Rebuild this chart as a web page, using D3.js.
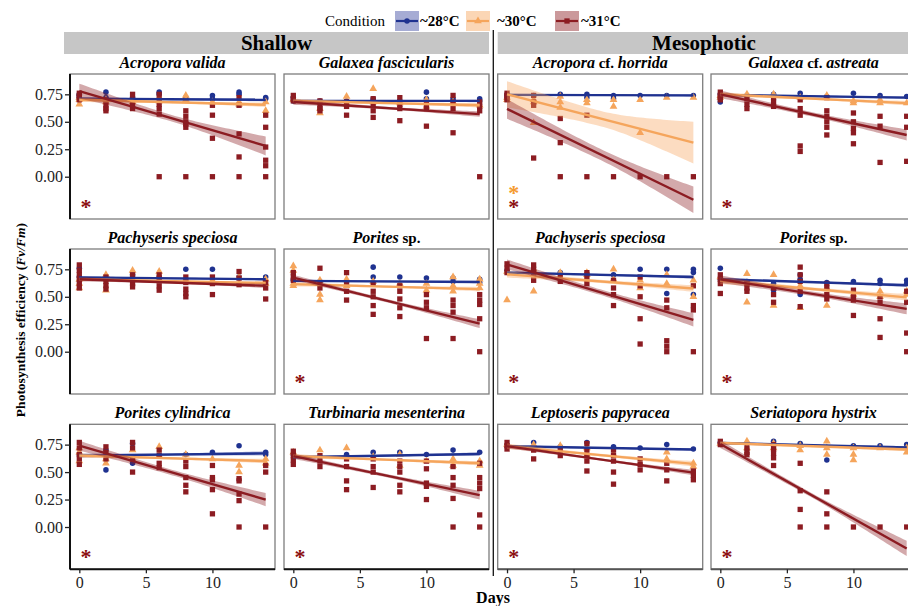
<!DOCTYPE html>
<html lang="en">
<head>
<meta charset="utf-8">
<title>Photosynthesis efficiency by condition</title>
<script src="https://d3js.org/d3.v7.min.js"></script>
<style>
  body { margin: 0; background: #fff; }
  svg text { font-family: "Liberation Serif", "Times New Roman", serif; }
</style>
</head>
<body>
<div id="main"></div>
<script>

// ---- data ----
var days = [0, 2, 4, 6, 8, 10, 12, 14];
var conditions = ["~28°C", "~30°C", "~31°C"];
var depths = ["Shallow", "Mesophotic"];
var yTicks = [0, 0.25, 0.5, 0.75];
var xTicks = [0, 5, 10];

// panel order: row by row, columns 1-2 shallow, 3-4 mesophotic
var titleParts = [
  [["Acropora valida", 1]], [["Galaxea fascicularis", 1]],
  [["Acropora", 1], [" cf. ", 0], ["horrida", 1]], [["Galaxea", 1], [" cf. ", 0], ["astreata", 1]],
  [["Pachyseris speciosa", 1]], [["Porites", 1], [" sp.", 0]],
  [["Pachyseris speciosa", 1]], [["Porites", 1], [" sp.", 0]],
  [["Porites cylindrica", 1]], [["Turbinaria mesenterina", 1]],
  [["Leptoseris papyracea", 1]], [["Seriatopora hystrix", 1]]
];

// Fv/Fm per panel, per day (replicates)
var pts28 = [
  [[0.75,0.72,0.74],[0.77,0.72],[0.72,0.70],[0.77,0.75],[0.72],[0.74,0.71],[0.77,0.75],[0.72,0.71]],
  [[0.72,0.69],[0.69],[0.69],[0.71,0.69],[0.69],[0.77,0.71],[0.71],[0.71,0.69]],
  [[0.75,0.73],[0.74],[0.75],[0.75,0.72],[0.74,0.71],[0.74],[0.74],[0.74]],
  [[0.68,0.75],[0.74],[0.75],[0.76],[0.73],[0.76],[0.74],[0.73]],
  [[0.76,0.68],[0.68],[0.70],[0.68],[0.75],[0.75],[0.68],[0.68]],
  [[0.65],[0.64],[0.64],[0.77,0.68],[0.68],[0.67],[0.67,0.64],[0.66,0.63]],
  [[0.74],[0.72],[0.72],[0.71],[0.70],[0.75],[0.75,0.53],[0.75,0.72,0.52]],
  [[0.76,0.66],[0.64],[0.62,0.56],[0.70,0.66,0.52],[0.63],[0.64],[0.65,0.62],[0.65,0.62]],
  [[0.66],[0.70,0.52],[0.76,0.58],[0.65],[0.66],[0.68],[0.74],[0.68,0.66]],
  [[0.66],[0.64],[0.66],[0.68],[0.68],[0.66],[0.70],[0.68]],
  [[0.74],[0.77],[0.73],[0.77],[0.73],[0.72],[0.75],[0.71]],
  [[0.77],[0.76],[0.78],[0.76],[0.61],[0.74],[0.74],[0.75]]
];
var pts30 = [
  [[0.66,0.72,0.70],[0.70,0.68],[0.68],[0.72,0.69],[0.74,0.70],[0.68],[0.66,0.68],[0.60,0.68]],
  [[0.70],[0.58,0.62],[0.73,0.66],[0.80,0.68],[0.67],[0.70,0.64],[0.68],[0.65]],
  [[0.72,0.70],[0.70,0.68,0.49],[0.73,0.68,0.63],[0.70,0.67],[0.70,0.64],[0.40,0.70],[0.72],[0.72]],
  [[0.72,0.74],[0.75],[0.75],[0.72],[0.74],[0.69,0.67],[0.67,0.70],[0.67]],
  [[0.58,0.62,0.66],[0.70,0.56],[0.74,0.66],[0.73,0.66],[0.66],[0.65],[0.68,0.62],[0.62,0.66]],
  [[0.78,0.74,0.62,0.60],[0.65,0.52,0.47],[0.66,0.60],[0.64],[0.62],[0.62,0.56],[0.68,0.60,0.55],[0.66,0.62,0.58]],
  [[0.73,0.47],[0.75,0.55],[0.72],[0.72,0.70],[0.75,0.66],[0.65,0.58],[0.70,0.62],[0.65,0.50]],
  [[0.68],[0.71,0.45],[0.70,0.42],[0.60,0.40],[0.58,0.42],[0.52],[0.55,0.50],[0.55,0.52]],
  [[0.60,0.68,0.72],[0.58,0.62],[0.70,0.62],[0.73,0.65],[0.66],[0.62],[0.50,0.56],[0.62,0.58]],
  [[0.68],[0.70],[0.72],[0.64],[0.66,0.56],[0.60],[0.62,0.56],[0.60,0.56]],
  [[0.75],[0.75],[0.74,0.70],[0.72,0.66],[0.66],[0.58],[0.68,0.62],[0.58,0.55]],
  [[0.76],[0.78,0.72],[0.76,0.72],[0.74,0.70],[0.78,0.72,0.66],[0.72,0.61,0.66],[0.72],[0.72,0.68]]
];
var pts31 = [
  [[0.70,0.74,0.76,0.72],[0.60,0.62,0.65,0.70],[0.62,0.65,0.75,0.70],[0.57,0.62,0.66,0.70,0.75,0],[0.45,0.48,0.50,0.55,0.60,0],[0.56,0.35,0.65,0],[0.39,0.18,0.65,0.72,0],[0.56,0.45,0.27,0.15,0.10,0]],
  [[0.74,0.71,0.69],[0.69,0.65,0.62,0.60],[0.68,0.64,0.56],[0.71,0.65,0.60,0.54],[0.72,0.66,0.62,0.51],[0.66,0.62,0.46],[0.74,0.68,0.62,0.40],[0.68,0.64,0.60,0]],
  [[0.76,0.72,0.70,0.74],[0.74,0.68,0.65,0.17],[0.53,0.31,0],[0.56,0],[0],[0],[0],[0]],
  [[0.77,0.74,0.72,0.70],[0.71,0.66,0.62],[0.72,0.68,0.64],[0.70,0.62,0.56,0.28,0.23],[0.72,0.60,0.55,0.50,0.45,0.38],[0.58,0.50,0.44,0.40,0.30],[0.55,0.46,0.13],[0.55,0.45,0.14]],
  [[0.79,0.74,0.70,0.66,0.62,0.58],[0.68,0.64,0.60,0.57],[0.70,0.66,0.62,0.59],[0.70,0.65,0.60,0.56],[0.68,0.63,0.57,0.53,0.50],[0.68,0.62,0.52],[0.73,0.67,0.61],[0.63,0.58,0.48]],
  [[0.72,0.68,0.65],[0.76,0.62,0.58],[0.72,0.62,0.55,0.47],[0.62,0.55,0.50,0.42,0.34],[0.60,0.55,0.48,0.40,0.32],[0.52,0.45,0.40,0.12],[0.47,0.42,0.36,0.12],[0.52,0.47,0.43,0.30,0]],
  [[0.80,0.76,0.72],[0.79,0.75,0.70,0.65],[0.68,0.64],[0.72,0.68,0.62],[0.65,0.58,0.52,0.42],[0.68,0.60,0.50,0.30,0.07],[0.47,0.40,0.10,0.05,0],[0.60,0.42,0.38,0]],
  [[0.70,0.66,0.62,0.53],[0.62,0.58,0.55],[0.58,0.52,0.45],[0.77,0.70,0.64,0.55,0.41],[0.62,0.58,0.52,0.48],[0.56,0.50,0.47,0.33],[0.50,0.45,0.30,0.13],[0.55,0.45,0.17,0]],
  [[0.77,0.72,0.66,0.62,0.57],[0.73,0.68,0.62],[0.77,0.72,0.62,0.50],[0.70,0.65,0.58,0.54],[0.60,0.55,0.45,0.38,0.32],[0.56,0.45,0.43,0.34,0.12],[0.44,0.42,0.30,0.24,0],[0.56,0.50,0]],
  [[0.69,0.65,0.61,0.57],[0.65,0.60,0.55],[0.62,0.55,0.42,0.34],[0.62,0.55,0.50,0.36],[0.60,0.55,0.50,0.38,0.32],[0.60,0.53,0.40,0.37,0.25],[0.55,0.45,0.38,0.26,0],[0.58,0.45,0.40,0.35,0.11,0]],
  [[0.77,0.74,0.71],[0.70,0.62],[0.70,0.65],[0.76,0.70,0.65,0.60,0.51],[0.70,0.65,0.60,0.50,0.39],[0.62,0.57,0.52],[0.58,0.52,0.42],[0.51,0.47,0.43]],
  [[0.78,0.75],[0.72,0.68,0.66],[0.75,0.71,0.67,0.63,0.56],[0.58,0.33,0.16,0],[0.32,0.12,0],[0],[0],[0]]
];

// fitted line: value at day 0 and day 14
var fit28 = [[0.71,0.70],[0.69,0.69],[0.745,0.74],[0.745,0.72],[0.675,0.66],[0.645,0.635],[0.72,0.68],[0.66,0.605],[0.65,0.67],[0.635,0.665],[0.735,0.705],[0.765,0.725]];
var fit30 = [[0.70,0.655],[0.69,0.65],[0.75,0.31],[0.75,0.67],[0.66,0.625],[0.615,0.57],[0.705,0.575],[0.645,0.495],[0.65,0.60],[0.645,0.58],[0.735,0.575],[0.765,0.705]];
var fit31 = [[0.78,0.28],[0.68,0.57],[0.617,-0.21],[0.75,0.38],[0.66,0.60],[0.675,0.255],[0.795,0.29],[0.66,0.39],[0.74,0.25],[0.645,0.29],[0.735,0.495],[0.755,-0.195]];

// confidence band half width at day 0, day 7, day 14
var ci28 = [[0.015,0.008,0.015],[0.012,0.006,0.012],[0.012,0.006,0.012],[0.012,0.006,0.012],[0.012,0.006,0.012],[0.012,0.006,0.012],[0.015,0.008,0.015],[0.015,0.008,0.015],[0.02,0.01,0.02],[0.015,0.008,0.015],[0.012,0.006,0.012],[0.012,0.006,0.012]];
var ci30 = [[0.02,0.01,0.02],[0.02,0.01,0.02],[0.12,0.07,0.19],[0.02,0.01,0.02],[0.015,0.008,0.015],[0.02,0.01,0.02],[0.03,0.015,0.03],[0.03,0.015,0.03],[0.02,0.01,0.02],[0.02,0.01,0.02],[0.025,0.012,0.025],[0.015,0.008,0.015]];
var ci31 = [[0.067,0.03,0.086],[0.025,0.012,0.025],[0.09,0.05,0.12],[0.035,0.02,0.05],[0.02,0.01,0.02],[0.025,0.015,0.04],[0.045,0.025,0.06],[0.035,0.02,0.05],[0.045,0.025,0.06],[0.025,0.015,0.04],[0.02,0.01,0.025],[0.035,0.02,0.07]];

// significance stars (1 = shown)
var sig30 = [0,0,1,0, 0,0,0,0, 0,0,0,0];
var sig31 = [1,0,1,1, 0,1,1,1, 1,1,1,1];

// ---- layout ----
var width = 908, height = 606;
var colX = [70, 284, 497.7, 711];
var rowY = [74, 249, 424.3];
var pw = 205, ph = 145;

var lineCol = ["#1f3290", "#f5a55c", "#8c1c22"];
var bandCol = ["#3a47a0", "#f7a35c", "#8c1c22"];
var starCol = ["#f59a2e", "#8c1010"];
var shapes = [d3.symbolCircle, d3.symbolTriangle, d3.symbolSquare];
var shapeSize = [24, 26, 28];
var allPts = [pts28, pts30, pts31];
var allFit = [fit28, fit30, fit31];
var allCi = [ci28, ci30, ci31];

var svg = d3.select("#main").append("svg")
  .attr("width", width)
  .attr("height", height);

var x = d3.scaleLinear().domain([-0.7, 14.7]).range([0, pw]);
var y = d3.scaleLinear().domain([-0.385, 0.935]).range([ph, 0]);

// depth strips
var stripX = [[64, 425], [497.7, 420]];
depths.forEach(function(dname, i) {
  svg.append("rect")
    .attr("x", stripX[i][0]).attr("y", 32)
    .attr("width", stripX[i][1]).attr("height", 22)
    .attr("fill", "#c6c6c6");
  var cx = i == 0 ? stripX[i][0] + stripX[i][1] / 2 : 704;
  svg.append("text")
    .attr("x", cx).attr("y", 50)
    .attr("text-anchor", "middle")
    .attr("font-size", 21).attr("font-weight", "bold")
    .text(dname);
});

// divider between blocks
svg.append("line")
  .attr("x1", 493.3).attr("x2", 493.3)
  .attr("y1", 30).attr("y2", 576)
  .attr("stroke", "#111").attr("stroke-width", 1.3);

function bandWidth(c, d) {
  var edge = d < 7 ? c[0] : c[2];
  var t = (d - 7) / 7;
  return Math.sqrt(c[1] * c[1] + (edge * edge - c[1] * c[1]) * t * t);
}

titleParts.forEach(function(parts, p) {
  var row = Math.floor(p / 4), col = p % 4;
  var g = svg.append("g").attr("transform", "translate(" + colX[col] + "," + rowY[row] + ")");

  g.append("clipPath").attr("id", "clip" + p)
    .append("rect").attr("width", pw).attr("height", ph);

  // title
  var t = g.append("text")
    .attr("x", pw / 2).attr("y", -6.5)
    .attr("text-anchor", "middle")
    .attr("font-size", 16).attr("font-weight", "bold");
  parts.forEach(function(s) {
    t.append("tspan")
      .attr("font-style", s[1] ? "italic" : "normal")
      .attr("font-size", s[1] ? 16 : 15)
      .text(s[0]);
  });

  // points
  conditions.forEach(function(c, k) {
    var flat = [];
    allPts[k][p].forEach(function(vals, di) {
      vals.forEach(function(v) { flat.push([days[di], v]); });
    });
    g.append("g").selectAll("path")
      .data(flat)
      .enter().append("path")
      .attr("transform", function(d) { return "translate(" + x(d[0]) + "," + y(d[1]) + ")"; })
      .attr("d", d3.symbol().type(shapes[k]).size(shapeSize[k]))
      .attr("fill", lineCol[k]);
  });

  // fits with confidence bands
  var grid = d3.range(0, 14.001, 0.25);
  conditions.forEach(function(c, k) {
    var f = allFit[k][p], ci = allCi[k][p];
    var fitAt = function(d) { return f[0] + (f[1] - f[0]) * d / 14; };
    var lay = g.append("g").attr("clip-path", "url(#clip" + p + ")");
    lay.append("path")
      .datum(grid)
      .attr("d", d3.area()
        .x(function(d) { return x(d); })
        .y0(function(d) { return y(fitAt(d) - bandWidth(ci, d)); })
        .y1(function(d) { return y(fitAt(d) + bandWidth(ci, d)); }))
      .attr("fill", bandCol[k]).attr("fill-opacity", 0.38);
    lay.append("path")
      .datum([0, 14])
      .attr("d", d3.line()
        .x(function(d) { return x(d); })
        .y(function(d) { return y(fitAt(d)); }))
      .attr("fill", "none")
      .attr("stroke", lineCol[k]).attr("stroke-width", 2.4);
  });

  // stars: one text element per panel, one line per significant condition
  var stars = [];
  if (sig30[p]) stars.push([-0.121, starCol[0]]);
  if (sig31[p]) stars.push([-0.245, starCol[1]]);
  if (stars.length) {
    var st = g.append("text")
      .attr("text-anchor", "middle").attr("font-size", 22).attr("font-weight", "bold");
    stars.forEach(function(s) {
      st.append("tspan")
        .attr("x", x(0.5)).attr("y", y(s[0]) + 10)
        .attr("fill", s[1]).text("*");
    });
  }

  // frame
  g.append("rect")
    .attr("width", pw).attr("height", ph)
    .attr("fill", "none").attr("stroke", "#7d7d7d").attr("stroke-width", 1.3);

  // y axis on the first column
  if (col == 0) {
    var ya = g.append("g").call(d3.axisLeft(y).tickValues(yTicks).tickSize(5).tickPadding(2)
      .tickFormat(d3.format(".2f")));
    ya.select(".domain").attr("stroke", "#111").attr("stroke-width", 2)
      .attr("d", "M0,0V" + ph);
    ya.selectAll(".tick line").attr("stroke", "#222").attr("stroke-width", 1.3);
    ya.selectAll(".tick text")
      .attr("font-family", "Liberation Serif, serif").attr("font-size", 16).attr("fill", "#222");
  }

  // x axis on the last row
  if (row == 2) {
    var xa = g.append("g").attr("transform", "translate(0," + ph + ")")
      .call(d3.axisBottom(x).tickValues(xTicks).tickSize(4).tickPadding(3));
    xa.select(".domain").attr("stroke", col < 2 ? "#111" : "#555").attr("stroke-width", 2)
      .attr("d", "M0,0H" + pw);
    xa.selectAll(".tick line").attr("stroke", "#222").attr("stroke-width", 1.3);
    xa.selectAll(".tick text")
      .attr("font-family", "Liberation Serif, serif").attr("font-size", 16).attr("fill", "#222");
  }
});

// axis titles
var yl = svg.append("text")
  .attr("transform", "translate(25,320) rotate(-90)")
  .attr("text-anchor", "middle")
  .attr("font-size", 13.5).attr("font-weight", "bold");
yl.append("tspan").text("Photosynthesis efficiency (");
yl.append("tspan").attr("font-style", "italic").text("Fv/Fm");
yl.append("tspan").text(")");

svg.append("text")
  .attr("x", 493).attr("y", 603)
  .attr("text-anchor", "middle")
  .attr("font-size", 16).attr("font-weight", "bold")
  .text("Days");

// legend
svg.append("text")
  .attr("x", 325).attr("y", 26)
  .attr("font-size", 15)
  .text("Condition");

var keyX = [395, 466, 555];
var labX = [420, 497, 581];
conditions.forEach(function(c, k) {
  var kg = svg.append("g").attr("transform", "translate(" + keyX[k] + ",11)");
  kg.append("rect").attr("width", 24).attr("height", 20)
    .attr("fill", bandCol[k]).attr("fill-opacity", 0.45);
  kg.append("line").attr("x1", 1).attr("x2", 23).attr("y1", 10).attr("y2", 10)
    .attr("stroke", lineCol[k]).attr("stroke-width", 2.2);
  kg.append("path").attr("transform", "translate(12,10)")
    .attr("d", d3.symbol().type(shapes[k]).size(shapeSize[k]))
    .attr("fill", lineCol[k]);
  svg.append("text")
    .attr("x", labX[k]).attr("y", 26)
    .attr("font-size", 15).attr("font-weight", "bold")
    .text(c);
});

</script>
</body>
</html>
